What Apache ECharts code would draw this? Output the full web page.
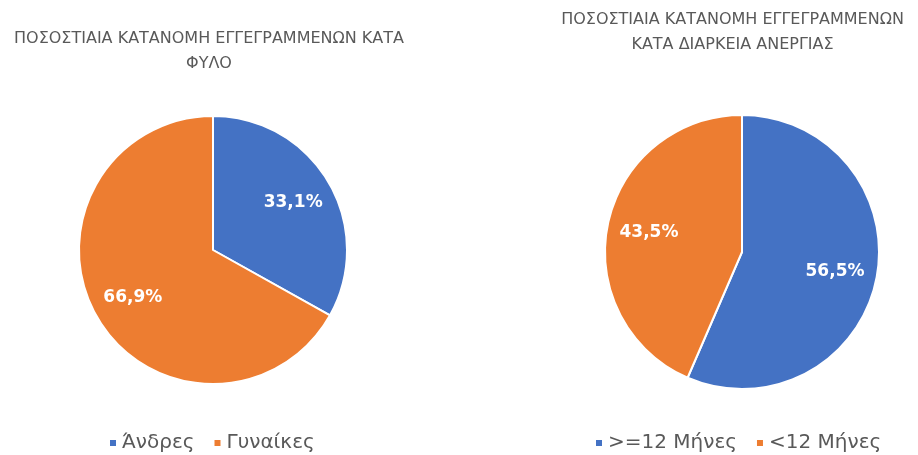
<!DOCTYPE html>
<html>
<head>
<meta charset="utf-8">
<script src="https://cdn.jsdelivr.net/npm/echarts@6/dist/echarts.min.js"></script>
<style>
  html, body { margin: 0; padding: 0; background: #fff; }
  #wrap { position: relative; width: 918px; height: 455px; }
  #left { position: absolute; left: 0; top: 0; width: 418px; height: 455px; }
  #right { position: absolute; left: 547px; top: 0; width: 371px; height: 455px; }
</style>
</head>
<body>
<div id="wrap">
  <div id="left"></div>
  <div id="right"></div>
</div>
<script>
const sexTitle = 'ΠΟΣΟΣΤΙΑΙΑ ΚΑΤΑΝΟΜΗ ΕΓΓΕΓΡΑΜΜΕΝΩΝ ΚΑΤΑ\nΦΥΛΟ';
const sexNames = ['Άνδρες', 'Γυναίκες'];
const sexValues = [33.1, 66.9];

const durTitle = 'ΠΟΣΟΣΤΙΑΙΑ ΚΑΤΑΝΟΜΗ ΕΓΓΕΓΡΑΜΜΕΝΩΝ\nΚΑΤΑ ΔΙΑΡΚΕΙΑ ΑΝΕΡΓΙΑΣ';
const durNames = ['>=12 Μήνες', '<12 Μήνες'];
const durValues = [56.5, 43.5];

const colors = ['#4472C4', '#ED7D31'];
const textColor = '#595959';
const font = '"DejaVu Sans", sans-serif';

function fmt(p) {
  return p.value.toFixed(1).replace('.', ',') + '%';
}

function buildOption(title, names, values, cfg) {
  const data = names.map((n, i) => ({ name: n, value: values[i], itemStyle: { color: colors[i] } }));
  return {
    animation: false,
    title: {
      text: title,
      left: 'center',
      top: cfg.titleTop,
      padding: 0,
      textStyle: { fontFamily: font, fontSize: 16, fontWeight: 'normal', color: textColor, lineHeight: 25 }
    },
    legend: {
      data: names.map((n, i) => ({ name: n, itemStyle: { color: colors[i] } })),
      left: cfg.legendLeft,
      top: cfg.legendTop,
      icon: 'rect',
      itemWidth: 8,
      itemHeight: 8,
      itemGap: 18,
      padding: 0,
      selectedMode: false,
      textStyle: { fontFamily: font, fontSize: 20, color: textColor }
    },
    series: [
      {
        type: 'pie',
        center: cfg.center,
        radius: cfg.radius,
        startAngle: 90,
        clockwise: true,
        data: data,
        label: { show: false },
        labelLine: { show: false },
        emphasis: { disabled: true },
        itemStyle: { borderColor: '#fff', borderWidth: 2 }
      },
      {
        // transparent copy so the labels sit further out than the default mid-radius
        type: 'pie',
        center: cfg.center,
        radius: Math.round(cfg.radius * 1.34),
        startAngle: 90,
        clockwise: true,
        silent: true,
        z: 5,
        data: names.map((n, i) => ({ name: n, value: values[i] })),
        itemStyle: { color: 'rgba(0,0,0,0)', borderWidth: 0 },
        label: {
          show: true,
          position: 'inside',
          formatter: fmt,
          color: '#fff',
          fontFamily: font,
          fontSize: 17,
          fontWeight: 'bold'
        },
        labelLine: { show: false },
        emphasis: { disabled: true }
      }
    ]
  };
}

const leftChart = echarts.init(document.getElementById('left'), null, { renderer: 'canvas' });
leftChart.setOption(buildOption(sexTitle, sexNames, sexValues, {
  titleTop: 26, legendTop: 433, legendLeft: 108, center: [213, 250], radius: 134
}));

const rightChart = echarts.init(document.getElementById('right'), null, { renderer: 'canvas' });
rightChart.setOption(buildOption(durTitle, durNames, durValues, {
  titleTop: 7, legendTop: 433, legendLeft: 47, center: [195, 252], radius: 137
}));
</script>
</body>
</html>
